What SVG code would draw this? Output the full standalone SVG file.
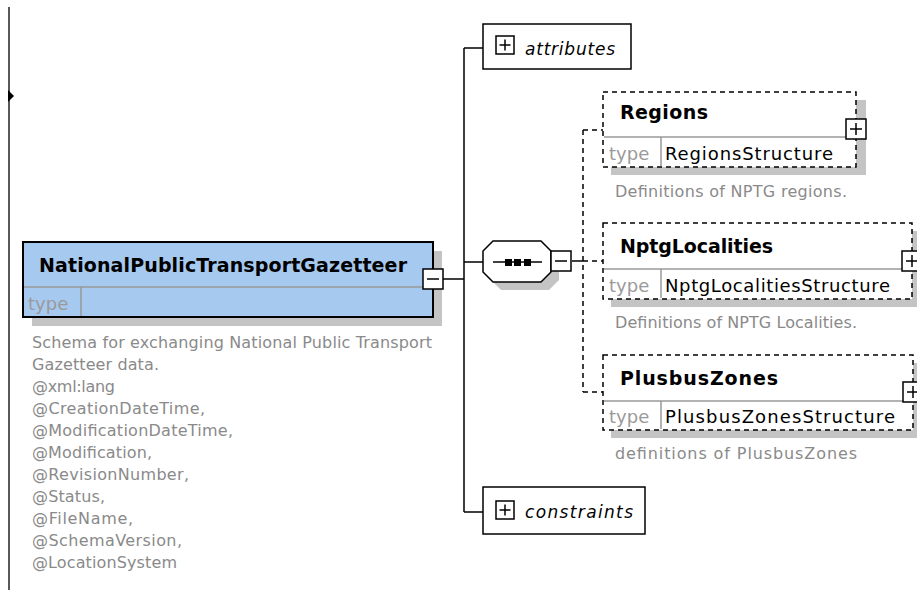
<svg xmlns="http://www.w3.org/2000/svg" width="917" height="593" viewBox="0 0 917 593">
<style>
.hdr{font-family:"DejaVu Sans",sans-serif;font-weight:bold;font-size:19px;fill:#000}
.typ{font-family:"DejaVu Sans",sans-serif;font-size:18px;fill:#9a9a9a}
.tn{font-family:"DejaVu Sans",sans-serif;font-size:18px;fill:#000}
.desc{font-family:"DejaVu Sans",sans-serif;font-size:16px;fill:#8a8a8a}
.it{font-family:"DejaVu Sans",sans-serif;font-style:italic;font-size:17px;fill:#000}
.ln{stroke:#000;stroke-width:1.5;fill:none}
.dl{stroke:#000;stroke-width:1.5;fill:none;stroke-dasharray:5 4}
.sh{fill:#c4c4c4}
.sep{stroke:#999;stroke-width:1.5}
.ic{fill:#fff;stroke:#000;stroke-width:1.5}
</style>
<defs>
<g id="plus"><rect class="ic" x="0" y="0" width="20" height="20"/><path class="ln" d="M4 10H16M10 4V16"/></g>
<g id="plusS"><rect class="ic" x="0" y="0" width="18" height="18"/><path class="ln" d="M3.5 9H14.5M9 3.5V14.5"/></g>
<g id="minus"><rect class="ic" x="0" y="0" width="20" height="20"/><path class="ln" d="M4 10H16"/></g>
</defs>

<g id="leftbar">
<line x1="9" y1="7" x2="9" y2="590" stroke="#222" stroke-width="1.5"/>
<polygon points="8,90 14,96 8,102" fill="#000"/>
</g>

<g id="connectors">
<path class="ln" d="M443 279H464M464 48V512M464 48H483M464 262H483M464 512H483"/>
<path class="ln" d="M572 261H583"/>
<path class="dl" d="M583 130V392M583 130H603M583 261H603M583 392H603"/>
</g>

<g id="root">
<rect class="sh" x="32" y="251" width="410" height="75"/>
<rect x="23" y="242" width="410" height="75" fill="#a6c9ef" stroke="#000" stroke-width="2"/>
<line class="sep" x1="24" y1="287" x2="432" y2="287"/>
<line class="sep" x1="81" y1="287" x2="81" y2="316"/>
<text class="hdr" x="39" y="272" textLength="368">NationalPublicTransportGazetteer</text>
<text class="typ" x="28" y="310">type</text>
<use href="#minus" x="423" y="269"/>
<text class="desc" x="32" y="348" textLength="400">Schema for exchanging National Public Transport</text>
<text class="desc" x="32" y="370" textLength="127">Gazetteer data.</text>
<text class="desc" x="32" y="392" textLength="83">@xml:lang</text>
<text class="desc" x="32" y="414" textLength="173">@CreationDateTime,</text>
<text class="desc" x="32" y="436" textLength="201">@ModificationDateTime,</text>
<text class="desc" x="32" y="458" textLength="120">@Modification,</text>
<text class="desc" x="32" y="480" textLength="157">@RevisionNumber,</text>
<text class="desc" x="32" y="502" textLength="73">@Status,</text>
<text class="desc" x="32" y="524" textLength="101">@FileName,</text>
<text class="desc" x="32" y="546" textLength="150">@SchemaVersion,</text>
<text class="desc" x="32" y="568" textLength="145">@LocationSystem</text>
</g>

<g id="attributes">
<rect x="483" y="24" width="148" height="45" fill="#fff" stroke="#000" stroke-width="1.5"/>
<use href="#plusS" x="496" y="36"/>
<text class="it" x="525" y="55" textLength="90">attributes</text>
</g>

<g id="sequence">
<polygon class="sh" points="501,249 549,249 559,259 559,280 549,290 501,290 491,280 491,259"/>
<polygon points="493,241 541,241 551,251 551,272 541,282 493,282 483,272 483,251" fill="#fff" stroke="#000" stroke-width="1.5"/>
<line class="ln" x1="493" y1="262" x2="542" y2="262"/>
<rect x="505" y="259" width="7" height="7" fill="#000"/>
<rect x="514" y="259" width="7" height="7" fill="#000"/>
<rect x="524" y="259" width="7" height="7" fill="#000"/>
<use href="#minus" x="551" y="251"/>
</g>

<g id="regions">
<rect class="sh" x="611" y="100" width="255" height="75"/>
<rect x="603" y="92" width="253" height="75" fill="#fff"/>
<line class="sep" x1="604" y1="137" x2="855" y2="137"/>
<line class="sep" x1="661" y1="137" x2="661" y2="166"/>
<rect class="dl" x="603" y="92" width="253" height="75"/>
<text class="hdr" x="620" y="119" textLength="88">Regions</text>
<text class="typ" x="609" y="160">type</text>
<text class="tn" x="665" y="160" textLength="168">RegionsStructure</text>
<use href="#plus" x="846" y="119"/>
<text class="desc" x="615" y="197" textLength="232">Definitions of NPTG regions.</text>
</g>

<g id="nptgLocalities">
<rect class="sh" x="611" y="231" width="309" height="76"/>
<rect x="603" y="223" width="309" height="76" fill="#fff"/>
<line class="sep" x1="604" y1="269" x2="911" y2="269"/>
<line class="sep" x1="661" y1="269" x2="661" y2="298"/>
<rect class="dl" x="603" y="223" width="309" height="76"/>
<text class="hdr" x="620" y="253" textLength="153">NptgLocalities</text>
<text class="typ" x="609" y="292">type</text>
<text class="tn" x="665" y="292" textLength="225">NptgLocalitiesStructure</text>
<use href="#plus" x="902" y="251"/>
<text class="desc" x="615" y="328" textLength="242">Definitions of NPTG Localities.</text>
</g>

<g id="plusbusZones">
<rect class="sh" x="611" y="363" width="310" height="75"/>
<rect x="603" y="355" width="310" height="75" fill="#fff"/>
<line class="sep" x1="604" y1="401" x2="912" y2="401"/>
<line class="sep" x1="661" y1="401" x2="661" y2="429"/>
<rect class="dl" x="603" y="355" width="310" height="75"/>
<text class="hdr" x="620" y="385" textLength="158">PlusbusZones</text>
<text class="typ" x="609" y="423">type</text>
<text class="tn" x="665" y="423" textLength="230">PlusbusZonesStructure</text>
<use href="#plus" x="903" y="382"/>
<text class="desc" x="615" y="459" textLength="242">definitions of PlusbusZones</text>
</g>

<g id="constraints">
<rect x="483" y="487" width="162" height="47" fill="#fff" stroke="#000" stroke-width="1.5"/>
<use href="#plusS" x="496" y="501"/>
<text class="it" x="525" y="518" textLength="108">constraints</text>
</g>
</svg>
